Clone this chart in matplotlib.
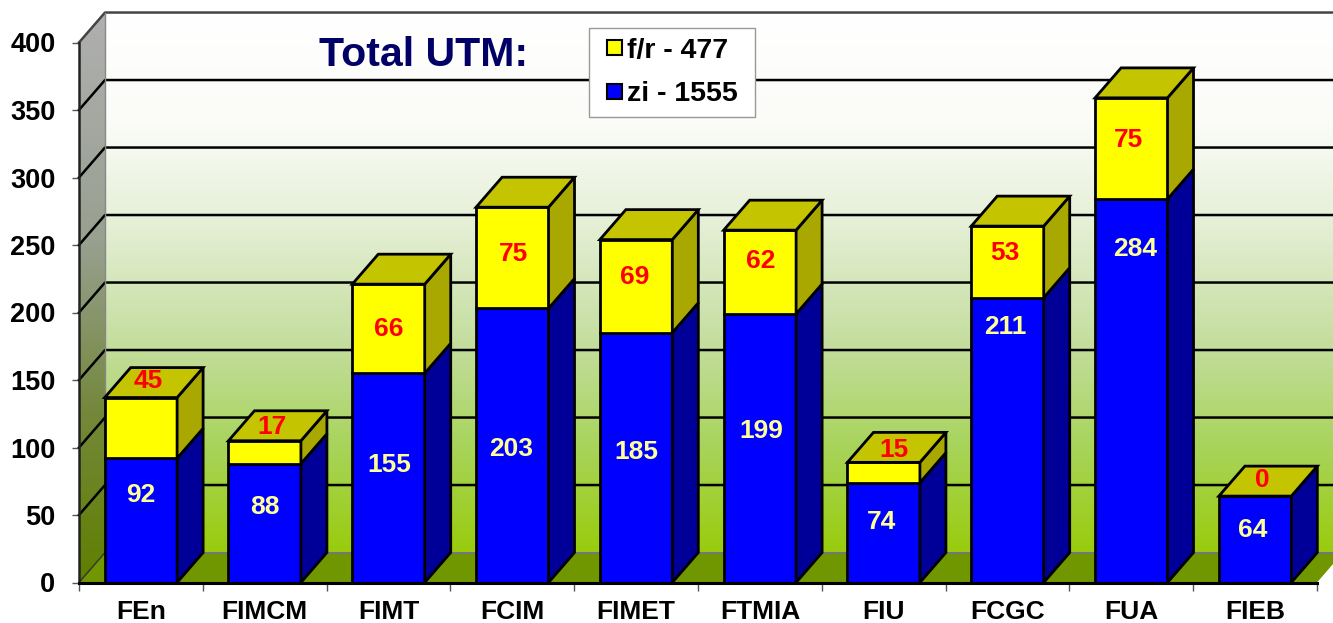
"""Stacked pseudo-3D column chart of UTM totals."""

import matplotlib

matplotlib.use("Agg")
import matplotlib.pyplot as plt
import numpy as np
from matplotlib.colors import LinearSegmentedColormap
from matplotlib.legend_handler import HandlerPatch
from matplotlib.patches import Patch, Polygon, Rectangle

plt.rcParams["font.family"] = ["Liberation Sans", "DejaVu Sans"]

faculties = ["FEn", "FIMCM", "FIMT", "FCIM", "FIMET", "FTMIA", "FIU", "FCGC", "FUA", "FIEB"]
zi_values = [92, 88, 155, 203, 185, 199, 74, 211, 284, 64]
fr_values = [45, 17, 66, 75, 69, 62, 15, 53, 75, 0]
y_ticks = [0, 50, 100, 150, 200, 250, 300, 350, 400]

# hand placed labels, same as the original slide (axis units)
zi_label_y = [65, 56, 87, 99, 97, 112, 45, 189, 247, 39]
zi_label_dx = [0, 0, 0.01, -0.01, 0, 0.01, -0.02, -0.02, 0.03, -0.02]
fr_label_y = [149, 115, 188, 243, 226, 238, 98, 244, 328, 76]
fr_label_dx = [0.06, 0.06, 0, 0.01, -0.01, 0.01, 0.08, -0.02, -0.02, 0.06]

W, H = 1333, 623
BAR_W = 0.585
DX = 0.21  # depth of the 3D box, in categories
DY = 22.2  # depth of the 3D box, in value units
EDGE = 2

fig = plt.figure(figsize=(W / 100, H / 100), dpi=100)
ax = fig.add_axes([79 / W, (H - 582.5) / H, 1238 / W, (582.5 - 42.5) / H])
ax.set_xlim(-0.5, 9.5)
ax.set_ylim(0, 400)
for spine in ax.spines.values():
    spine.set_visible(False)
ax.patch.set_visible(False)

wall_cmap = LinearSegmentedColormap.from_list(
    "wall",
    [(0, "#ffffff"), (0.2, "#fbfcf8"), (0.38, "#e6f0d8"), (0.62, "#c3dd9c"), (0.8, "#a8d45c"), (1, "#99cc0c")],
)
side_cmap = LinearSegmentedColormap.from_list(
    "side", [(0, "#b0b0b0"), (0.4, "#98a090"), (0.7, "#74883c"), (1, "#5f8000")]
)
ramp = np.linspace(0, 1, 256).reshape(-1, 1)


def gradient(cmap, extent, outline, zorder):
    poly = Polygon(outline, closed=True, transform=ax.transData, fill=False, edgecolor="none")
    ax.add_patch(poly)
    poly.set_clip_on(False)
    im = ax.imshow(ramp, cmap=cmap, extent=extent, aspect="auto", origin="upper", zorder=zorder)
    im.set_clip_box(fig.bbox)
    im.set_clip_path(poly)


x0, x1 = -0.5, 9.5
top = 400
gradient(wall_cmap, [x0 + DX, x1 + DX, DY, top + DY], [(x0 + DX, DY), (x1 + DX, DY), (x1 + DX, top + DY), (x0 + DX, top + DY)], 1)
gradient(side_cmap, [x0, x0 + DX, 0, top + DY], [(x0, 0), (x0 + DX, DY), (x0 + DX, top + DY), (x0, top)], 1)
ax.add_patch(Polygon([(x0, 0), (x0 + DX, DY), (x1 + DX, DY), (x1, 0)], closed=True, facecolor="#709600",
                     edgecolor="none", zorder=2, clip_on=False))
ax.plot([x0 + DX, x1 + DX], [DY, DY], color="#777777", lw=1.5, zorder=2, clip_on=False)

# gridlines run along the back wall and down the side wall
for tick in y_ticks[1:]:
    color = "#444444" if tick == 400 else "black"
    ax.plot([x0, x0 + DX, x1 + DX], [tick, tick + DY, tick + DY], color=color, lw=1.8, zorder=3, clip_on=False)
ax.plot([x0 + DX, x0 + DX], [DY, top + DY], color="#888888", lw=1, zorder=3, clip_on=False)
ax.plot([x0, x0 + DX], [0, DY], color="#333333", lw=1, zorder=3, clip_on=False)
ax.plot([x0, x0], [0, top], color="#222222", lw=1.8, zorder=3, clip_on=False)


def box(i, bottom, height, front, side):
    left, right = i - BAR_W / 2, i + BAR_W / 2
    ax.add_patch(Polygon([(left, bottom), (right, bottom), (right, bottom + height), (left, bottom + height)],
                         closed=True, facecolor=front, edgecolor="black", lw=EDGE, zorder=5 + i, clip_on=False))
    ax.add_patch(Polygon([(right, bottom), (right + DX, bottom + DY), (right + DX, bottom + height + DY),
                          (right, bottom + height)],
                         closed=True, facecolor=side, edgecolor="black", lw=EDGE, zorder=5 + i, clip_on=False))


for i, (zi, fr) in enumerate(zip(zi_values, fr_values)):
    box(i, 0, zi, "#0000ff", "#000099")
    if fr > 0:
        box(i, zi, fr, "#ffff00", "#a8a800")
    total = zi + fr
    left, right = i - BAR_W / 2, i + BAR_W / 2
    ax.add_patch(Polygon([(left, total), (right, total), (right + DX, total + DY), (left + DX, total + DY)],
                         closed=True, facecolor="#c4c400", edgecolor="black", lw=EDGE, zorder=5 + i, clip_on=False))

for i in range(len(faculties)):
    ax.text(i + zi_label_dx[i], zi_label_y[i], str(zi_values[i]), color="#ffff99", fontsize=19, fontweight="bold",
            ha="center", va="center", zorder=30)
    ax.text(i + fr_label_dx[i], fr_label_y[i], str(fr_values[i]), color="#ff0000", fontsize=19, fontweight="bold",
            ha="center", va="center", zorder=30)

ax.plot([x0, x1], [0, 0], color="black", lw=2.2, zorder=25, clip_on=False)

ax.set_yticks(y_ticks)
ax.set_yticklabels([str(t) for t in y_ticks], fontsize=19.5, fontweight="bold")
ax.tick_params(axis="y", length=5, width=1, color="#555555", pad=12)
ax.set_xticks(np.arange(-0.5, 10, 1))
ax.set_xticklabels([])
ax.set_xticks(np.arange(10), minor=True)
ax.set_xticklabels(faculties, minor=True, fontsize=19, fontweight="bold")
ax.tick_params(axis="x", which="major", length=6, width=1, color="#555555")
ax.tick_params(axis="x", which="minor", length=0, pad=12.5)

ax.text(0.3177, 0.911, "Total UTM:", transform=fig.transFigure, color="#000066", fontsize=29.5,
        fontweight="bold", ha="center", va="center", zorder=30)


def small_square(legend, orig_handle, xdescent, ydescent, width, height, fontsize):
    side = 10.8
    return Rectangle((width - side - xdescent, (height - side) / 2 - ydescent), side, side)


handles = [Patch(facecolor="#ffff00", edgecolor="black", lw=1.5), Patch(facecolor="#0000ff", edgecolor="black", lw=1.5)]
legend = ax.legend(handles, ["f/r - 477", "zi - 1555"], loc="upper left",
                   bbox_to_anchor=(589 / W, 1 - 116 / H, 166 / W, 88 / H), bbox_transform=fig.transFigure,
                   mode="expand", handler_map={Patch: HandlerPatch(patch_func=small_square)},
                   prop={"weight": "bold", "size": 20.5}, fancybox=False, edgecolor="#999999", framealpha=1,
                   handlelength=0.83, handleheight=0.75, handletextpad=0.18, labelspacing=0.6,
                   borderpad=0.33, borderaxespad=0)
legend.set_zorder(40)

fig.savefig("out.png", dpi=100)
